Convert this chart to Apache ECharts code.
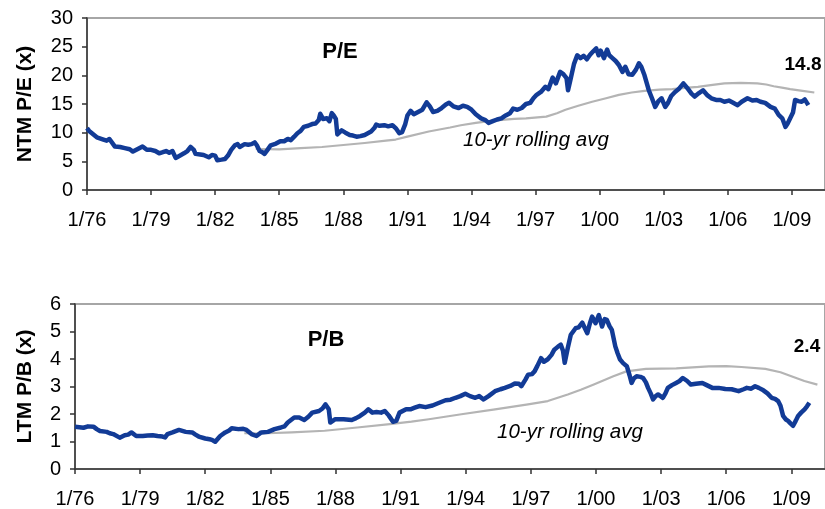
<!DOCTYPE html>
<html>
<head>
<meta charset="utf-8">
<script src="https://cdn.jsdelivr.net/npm/echarts@6/dist/echarts.min.js"></script>
<style>
  html, body { margin: 0; padding: 0; background: #fff; }
  #chart { width: 825px; height: 509px; }
</style>
</head>
<body>
<div id="chart"></div>
<script>
// ---------- DATA (decimal years) ----------
const xTickStartYear = 1976;
const xTickStep = 3;

const peDates = [1976.00,1976.10,1976.23,1976.46,1976.77,1976.92,1977.05,1977.30,1977.55,1977.77,1978.00,1978.15,1978.40,1978.60,1978.80,1979.00,1979.20,1979.38,1979.55,1979.70,1979.85,1980.00,1980.15,1980.30,1980.54,1980.70,1980.85,1981.00,1981.08,1981.30,1981.46,1981.70,1981.85,1982.00,1982.10,1982.30,1982.46,1982.60,1982.75,1982.92,1983.05,1983.15,1983.38,1983.55,1983.70,1983.85,1983.95,1984.08,1984.20,1984.31,1984.45,1984.60,1984.85,1985.05,1985.23,1985.40,1985.54,1985.70,1985.85,1986.00,1986.15,1986.35,1986.54,1986.70,1986.85,1986.92,1987.05,1987.23,1987.35,1987.46,1987.55,1987.65,1987.72,1987.80,1987.92,1988.10,1988.30,1988.45,1988.62,1988.80,1989.00,1989.15,1989.30,1989.45,1989.54,1989.70,1989.92,1990.10,1990.30,1990.45,1990.62,1990.75,1990.90,1991.00,1991.15,1991.30,1991.50,1991.70,1991.90,1992.05,1992.20,1992.40,1992.60,1992.80,1992.95,1993.15,1993.40,1993.60,1993.80,1994.00,1994.20,1994.45,1994.65,1994.80,1995.00,1995.20,1995.40,1995.60,1995.80,1995.95,1996.15,1996.35,1996.55,1996.75,1996.90,1997.05,1997.25,1997.46,1997.60,1997.80,1997.95,1998.15,1998.30,1998.45,1998.52,1998.62,1998.80,1998.95,1999.10,1999.25,1999.40,1999.55,1999.70,1999.84,1999.95,2000.05,2000.20,2000.35,2000.45,2000.60,2000.75,2000.90,2001.07,2001.20,2001.35,2001.53,2001.70,2001.84,2001.95,2002.10,2002.30,2002.45,2002.60,2002.75,2002.90,2003.07,2003.20,2003.35,2003.53,2003.70,2003.92,2004.10,2004.30,2004.45,2004.65,2004.84,2005.05,2005.23,2005.45,2005.65,2005.84,2006.05,2006.25,2006.46,2006.65,2006.92,2007.15,2007.35,2007.53,2007.75,2008.00,2008.20,2008.38,2008.55,2008.70,2008.80,2008.92,2009.05,2009.15,2009.30,2009.46,2009.60,2009.69,2009.77];
const peValues = [10.8,10.3,9.9,9.2,8.8,8.6,8.9,7.6,7.5,7.3,7.1,6.7,7.2,7.6,7.0,7.0,6.8,6.4,6.6,6.8,6.5,6.8,5.6,5.9,6.4,6.8,7.5,7.0,6.3,6.2,6.1,5.7,6.1,6.0,5.2,5.3,5.4,6.0,7.0,7.8,8.0,7.5,8.0,7.9,8.0,8.3,7.8,6.8,6.6,6.3,7.0,7.8,8.1,8.5,8.5,8.9,8.7,9.3,9.9,10.3,11.0,11.2,11.5,11.6,12.2,13.3,12.4,12.5,12.0,13.4,13.0,12.4,9.7,9.5,10.4,10.0,9.6,9.5,9.3,9.4,9.6,9.9,10.2,10.8,11.4,11.2,11.3,11.1,11.3,10.8,9.9,10.1,11.5,13.0,13.8,13.2,13.6,14.0,15.3,14.6,13.6,13.8,14.3,14.9,15.2,14.6,14.3,14.7,14.5,14.0,13.2,12.5,12.2,11.7,12.0,12.3,12.5,13.0,13.4,14.2,14.0,14.3,15.0,15.2,16.0,16.6,17.1,18.0,17.6,19.6,18.6,20.6,20.2,19.5,17.4,19.0,22.0,23.5,23.0,23.4,22.8,23.6,24.2,24.7,23.5,24.3,23.0,24.5,23.5,23.0,22.5,21.8,20.6,21.5,20.2,20.1,21.0,22.1,21.5,20.0,17.4,16.0,14.5,15.5,16.0,14.5,15.2,16.4,17.1,17.6,18.6,17.8,16.8,16.3,16.9,17.4,16.5,16.0,15.7,15.7,15.4,15.6,15.2,14.8,15.4,16.0,15.6,15.7,15.4,15.2,14.5,14.2,13.1,12.5,11.0,11.6,12.5,13.5,15.7,15.5,15.4,15.8,16.0,14.8];

const peAvgDates = [1983.90,1985.00,1986.00,1987.00,1988.00,1989.00,1990.00,1990.45,1991.00,1992.00,1993.00,1993.50,1994.20,1995.00,1996.00,1996.55,1997.50,1998.00,1998.40,1999.00,1999.65,2000.30,2000.90,2001.50,2002.10,2002.80,2003.40,2004.00,2004.60,2005.20,2005.84,2006.60,2007.38,2007.80,2008.15,2008.60,2008.92,2009.50,2010.05];
const peAvgValues = [7.15,7.1,7.3,7.5,7.85,8.2,8.6,8.8,9.3,10.2,10.9,11.3,11.7,12.1,12.4,12.5,12.8,13.4,14.0,14.7,15.4,16.0,16.6,17.0,17.3,17.5,17.6,17.8,18.0,18.3,18.6,18.7,18.6,18.4,18.1,17.8,17.6,17.3,17.0];

const pbDates = [1976.00,1976.20,1976.39,1976.60,1976.85,1977.00,1977.15,1977.46,1977.60,1977.76,1978.06,1978.29,1978.45,1978.60,1978.82,1979.12,1979.35,1979.58,1979.80,1980.03,1980.15,1980.26,1980.49,1980.79,1981.10,1981.40,1981.55,1981.70,1982.00,1982.20,1982.31,1982.46,1982.60,1982.69,1982.92,1983.10,1983.22,1983.52,1983.75,1983.90,1984.13,1984.36,1984.58,1984.89,1985.19,1985.49,1985.65,1985.80,1986.10,1986.33,1986.56,1986.75,1986.93,1987.24,1987.40,1987.54,1987.69,1987.76,1987.99,1988.37,1988.75,1988.95,1989.13,1989.35,1989.51,1989.70,1989.89,1990.10,1990.27,1990.45,1990.65,1990.80,1990.95,1991.25,1991.45,1991.65,1991.86,1992.15,1992.47,1992.75,1993.07,1993.30,1993.53,1993.75,1993.98,1994.20,1994.44,1994.62,1994.82,1995.05,1995.35,1995.60,1995.80,1996.05,1996.26,1996.45,1996.56,1996.75,1996.87,1997.05,1997.17,1997.30,1997.47,1997.60,1997.78,1997.95,1998.08,1998.25,1998.38,1998.48,1998.56,1998.70,1998.84,1999.06,1999.20,1999.37,1999.50,1999.60,1999.72,1999.82,1999.98,2000.13,2000.28,2000.40,2000.50,2000.62,2000.73,2000.89,2001.00,2001.11,2001.25,2001.42,2001.55,2001.64,2001.75,2001.87,2002.05,2002.17,2002.30,2002.40,2002.52,2002.63,2002.75,2002.86,2003.08,2003.20,2003.31,2003.50,2003.69,2003.85,2004.00,2004.20,2004.37,2004.60,2004.90,2005.10,2005.36,2005.65,2005.96,2006.25,2006.57,2006.80,2006.95,2007.15,2007.33,2007.50,2007.71,2007.90,2008.09,2008.25,2008.39,2008.50,2008.62,2008.75,2008.85,2008.97,2009.08,2009.20,2009.31,2009.45,2009.61,2009.72,2009.83];
const pbValues = [1.54,1.52,1.50,1.55,1.54,1.45,1.38,1.35,1.30,1.27,1.14,1.23,1.25,1.33,1.20,1.20,1.22,1.23,1.20,1.18,1.15,1.27,1.33,1.42,1.35,1.33,1.25,1.18,1.11,1.08,1.06,0.99,1.12,1.20,1.33,1.40,1.48,1.45,1.46,1.42,1.27,1.20,1.33,1.35,1.45,1.51,1.55,1.69,1.87,1.87,1.78,1.90,2.05,2.11,2.20,2.35,2.17,1.69,1.81,1.81,1.78,1.85,1.93,2.05,2.17,2.05,2.07,2.05,2.11,1.95,1.72,1.75,2.05,2.17,2.17,2.23,2.29,2.25,2.31,2.40,2.50,2.52,2.59,2.65,2.74,2.65,2.59,2.65,2.53,2.65,2.83,2.90,2.95,3.02,3.11,3.10,3.01,3.25,3.43,3.45,3.55,3.75,4.03,3.90,3.99,4.15,4.34,4.45,4.52,4.30,3.86,4.40,4.88,5.12,5.15,5.32,5.10,4.94,5.30,5.54,5.30,5.60,5.18,5.45,5.42,5.20,5.06,4.46,4.20,3.98,3.85,3.74,3.40,3.13,3.30,3.37,3.35,3.31,3.15,2.95,2.75,2.53,2.65,2.71,2.59,2.75,2.95,3.05,3.13,3.20,3.31,3.20,3.07,3.10,3.13,3.05,2.95,2.95,2.91,2.90,2.83,2.90,2.95,2.92,3.01,2.95,2.86,2.75,2.59,2.55,2.47,2.30,1.93,1.80,1.75,1.65,1.57,1.75,1.93,2.05,2.17,2.28,2.41];

const pbAvgDates = [1983.80,1984.50,1985.98,1987.50,1989.00,1990.50,1991.50,1992.30,1993.80,1995.35,1996.87,1997.78,1998.70,1999.30,1999.90,2000.80,2001.40,2002.30,2003.70,2005.20,2006.00,2006.70,2007.80,2008.50,2009.00,2009.60,2010.20];
const pbAvgValues = [1.30,1.29,1.33,1.39,1.51,1.63,1.72,1.81,1.99,2.17,2.35,2.47,2.71,2.88,3.07,3.37,3.55,3.64,3.66,3.73,3.74,3.71,3.64,3.52,3.37,3.20,3.07];

const peTicks = [0, 30, 5];   // min, max, step
const pbTicks = [0, 6, 1];
const peLast = '14.8';
const pbLast = '2.4';

// ---------- BUILD ----------
const pairs = (d, v) => d.map((x, i) => [x - xTickStartYear, v[i]]);
const FONT = '"Liberation Sans", Arial, sans-serif';
const BLUE = '#123b96';
const GREY = '#b4b4b4';
const AXIS = '#333333';
const X_SPAN = 34.55;

function xAxis(gridIndex) {
  return {
    type: 'value', gridIndex, min: 0, max: X_SPAN, interval: xTickStep,
    axisLine: { show: true, lineStyle: { color: AXIS, width: 1.5 } },
    axisTick: { show: true, inside: false, length: 5, lineStyle: { color: AXIS, width: 1.5 } },
    splitLine: { show: false },
    axisLabel: {
      margin: 20, fontSize: 20, color: '#000', fontFamily: FONT, showMaxLabel: false,
      formatter: v => {
        if (Math.abs(v / xTickStep - Math.round(v / xTickStep)) > 1e-6) return '';
        const y = (xTickStartYear + Math.round(v)) % 100;
        return '1/' + String(y).padStart(2, '0');
      }
    }
  };
}
function yAxis(gridIndex, t, name, gap) {
  return {
    type: 'value', gridIndex, min: t[0], max: t[1], interval: t[2],
    name, nameLocation: 'middle', nameRotate: 90, nameGap: gap,
    nameTextStyle: { fontSize: 21, fontWeight: 'bold', color: '#000', fontFamily: FONT },
    axisLine: { show: true, lineStyle: { color: AXIS, width: 1.5 } },
    axisTick: { show: true, inside: false, length: 5, lineStyle: { color: AXIS, width: 1.5 } },
    splitLine: { show: false },
    axisLabel: { margin: 14, fontSize: 20, color: '#000', fontFamily: FONT }
  };
}
function line(idx, data, color, width, z) {
  return {
    type: 'line', xAxisIndex: idx, yAxisIndex: idx, data, showSymbol: false,
    symbol: 'none', lineStyle: { color, width, join: 'round' }, z, animation: false
  };
}

const chart = echarts.init(document.getElementById('chart'), null, { renderer: 'canvas' });
chart.setOption({
  animation: false,
  backgroundColor: '#fff',
  grid: [
    { left: 87, top: 18, width: 749, height: 172, show: true, borderColor: '#a6a6a6', borderWidth: 2 },
    { left: 75, top: 304, width: 759, height: 166, show: true, borderColor: '#a6a6a6', borderWidth: 2 }
  ],
  xAxis: [xAxis(0), xAxis(1)],
  yAxis: [yAxis(0, peTicks, 'NTM P/E (x)', 51), yAxis(1, pbTicks, 'LTM P/B (x)', 39)],
  series: [
    line(0, pairs(peAvgDates, peAvgValues), GREY, 2.2, 2),
    line(0, pairs(peDates, peValues), BLUE, 4.5, 3),
    line(1, pairs(pbAvgDates, pbAvgValues), GREY, 2.2, 2),
    line(1, pairs(pbDates, pbValues), BLUE, 4.5, 3)
  ],
  graphic: [
    { type: 'text', x: 340, y: 52, style: { text: 'P/E', font: 'bold 22px ' + FONT, fill: '#000', align: 'center', verticalAlign: 'middle' } },
    { type: 'text', x: 326, y: 340, style: { text: 'P/B', font: 'bold 22px ' + FONT, fill: '#000', align: 'center', verticalAlign: 'middle' } },
    { type: 'text', x: 803, y: 65, style: { text: peLast, font: 'bold 19px ' + FONT, fill: '#000', align: 'center', verticalAlign: 'middle' } },
    { type: 'text', x: 807, y: 347, style: { text: pbLast, font: 'bold 19px ' + FONT, fill: '#000', align: 'center', verticalAlign: 'middle' } },
    { type: 'text', x: 463, y: 140, style: { text: '10-yr rolling avg', font: 'italic 20.5px ' + FONT, fill: '#000', align: 'left', verticalAlign: 'middle' } },
    { type: 'text', x: 497, y: 432, style: { text: '10-yr rolling avg', font: 'italic 20.5px ' + FONT, fill: '#000', align: 'left', verticalAlign: 'middle' } }
  ]
});
</script>
</body>
</html>
